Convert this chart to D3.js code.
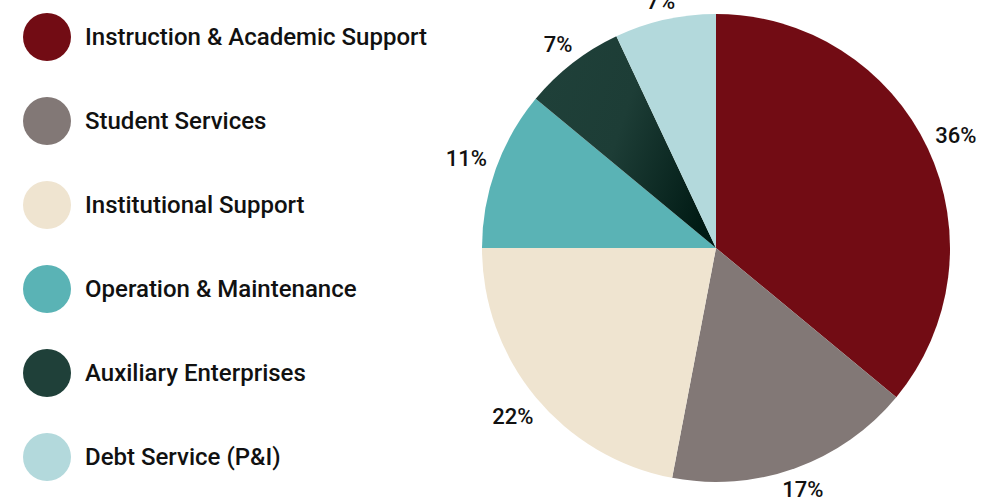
<!DOCTYPE html>
<html>
<head>
<meta charset="utf-8">
<script src="https://cdn.jsdelivr.net/npm/d3@7"></script>
<style>
  html, body { margin: 0; padding: 0; background: #fff; }
  svg { display: block; }
  text { font-family: Roboto, "Noto Sans", sans-serif; fill: #111; }
</style>
</head>
<body>
<svg id="chart" width="983" height="498"></svg>
<script>
const categories = ["Instruction & Academic Support", "Student Services", "Institutional Support", "Operation & Maintenance", "Auxiliary Enterprises", "Debt Service (P&I)"];
const values = [36, 17, 22, 11, 7, 7];
const labels = ["36%", "17%", "22%", "11%", "7%", "7%"];
const colors = ["#720c14", "#827876", "#efe4d0", "#5ab3b5", "#1f4039", "#b3d9dc"];

const svg = d3.select("#chart");

// gradient for auxiliary slice
const defs = svg.append("defs");
const grad = defs.append("linearGradient").attr("id", "auxGrad")
  .attr("x1", "0%").attr("y1", "30%").attr("x2", "100%").attr("y2", "70%");
grad.append("stop").attr("offset", "0%").attr("stop-color", "#1f4039");
grad.append("stop").attr("offset", "45%").attr("stop-color", "#1d3d36");
grad.append("stop").attr("offset", "100%").attr("stop-color", "#001a14");

const cx = 716, cy = 248, R = 234;
const pie = d3.pie().sort(null).value(d => d);
const arcs = pie(values);
const arc = d3.arc().innerRadius(0).outerRadius(R);

const g = svg.append("g").attr("transform", `translate(${cx},${cy})`);
g.selectAll("path.slice").data(arcs).join("path")
  .attr("class", "slice")
  .attr("d", arc)
  .attr("fill", (d, i) => i === 4 ? "url(#auxGrad)" : colors[i]);

// labels: placed outside so the text box sits a fixed gap off the rim
const gap = 10, halfH = 6;
const lbl = g.selectAll("text.lbl").data(arcs).join("text")
  .attr("class", "lbl")
  .attr("text-anchor", "middle")
  .attr("dominant-baseline", "central")
  .attr("font-size", 22)
  .attr("font-weight", 500)
  .text((d, i) => labels[i]);
lbl.each(function(d) {
  const a = (d.startAngle + d.endAngle) / 2;
  const ux = Math.sin(a), uy = -Math.cos(a);
  const hw = this.getComputedTextLength() / 2;
  const r = R + gap + Math.abs(ux) * hw + Math.abs(uy) * halfH;
  d3.select(this).attr("x", ux * r).attr("y", uy * r);
});

// legend
const ly = d3.scalePoint().domain(categories).range([37, 457]);
const items = svg.append("g").selectAll("g").data(categories).join("g")
  .attr("transform", d => `translate(0,${ly(d)})`);
items.append("circle").attr("cx", 47).attr("cy", 0).attr("r", 24)
  .attr("fill", (d, i) => colors[i]);
items.append("text").attr("x", 85).attr("y", 0)
  .attr("dominant-baseline", "central")
  .attr("font-size", 24)
  .attr("font-weight", 500)
  .text(d => d);
</script>
</body>
</html>
